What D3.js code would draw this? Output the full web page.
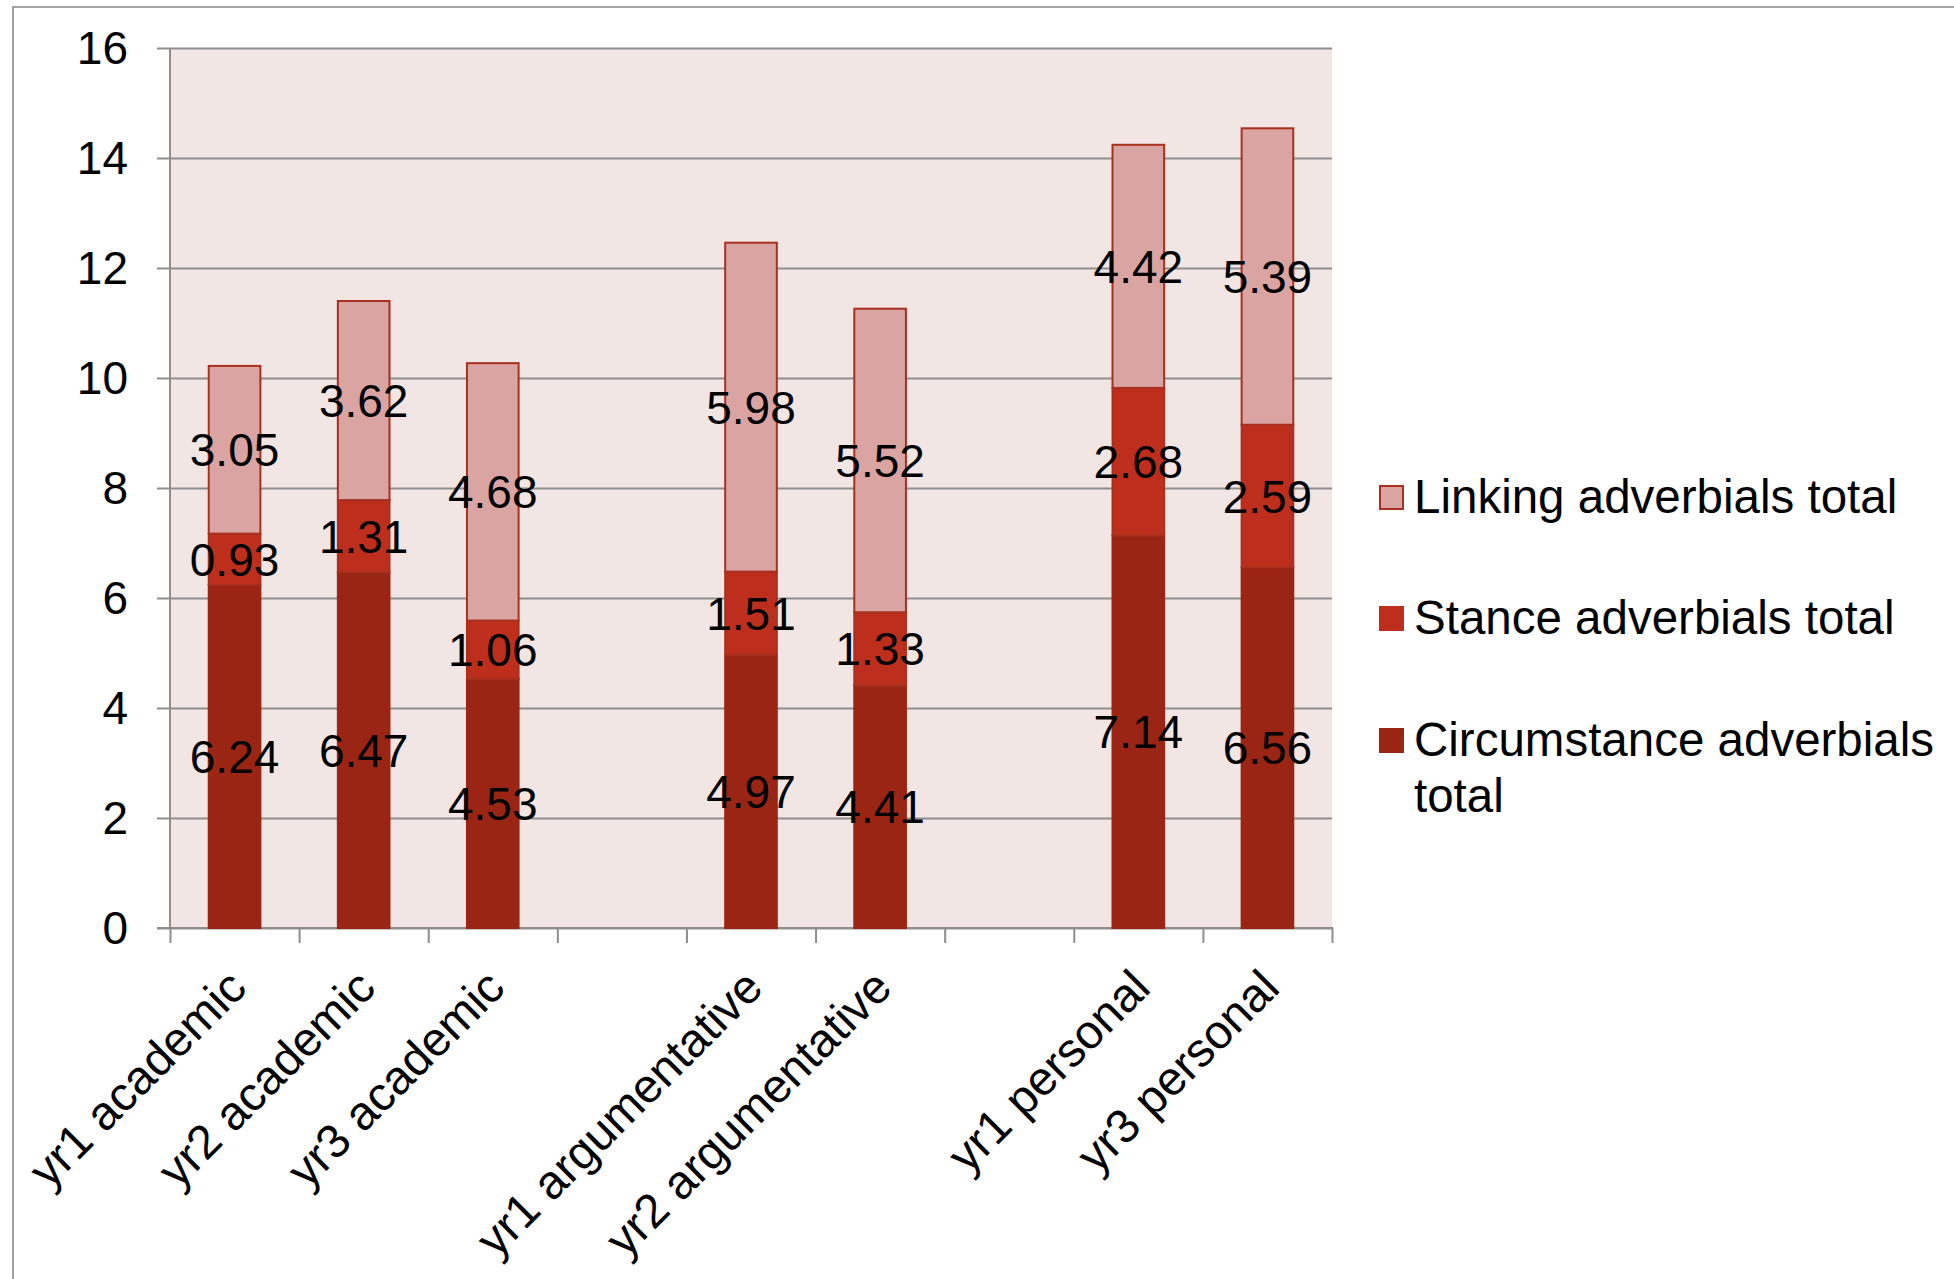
<!DOCTYPE html>
<html>
<head>
<meta charset="utf-8">
<script src="https://cdn.jsdelivr.net/npm/d3@7"></script>
<style>
  html, body { margin: 0; padding: 0; background: #ffffff; }
  svg { display: block; }
  text { font-family: "Liberation Sans", Arial, sans-serif; fill: #000; }
</style>
</head>
<body>
<svg id="chart" width="1954" height="1279"></svg>
<script>
// Categories on the x axis (blank entries are empty slots separating genres)
const categories = [
  "yr1 academic", "yr2 academic", "yr3 academic", "",
  "yr1 argumentative", "yr2 argumentative", "",
  "yr1 personal", "yr3 personal"
];

// Series values, stacked bottom to top
const circumstance = [6.24, 6.47, 4.53, null, 4.97, 4.41, null, 7.14, 6.56];
const stance       = [0.93, 1.31, 1.06, null, 1.51, 1.33, null, 2.68, 2.59];
const linking      = [3.05, 3.62, 4.68, null, 5.98, 5.52, null, 4.42, 5.39];

// Y-axis tick labels
const yTicks = [0, 2, 4, 6, 8, 10, 12, 14, 16];

const colors = {
  circumstance: "#9b2515",
  stance: "#bd2f1c",
  linking: "#d9a4a2"
};
const outline = "#a8301f";
const gridColor = "#8e8e8e";

const plot = { left: 170, right: 1332, top: 48, bottom: 928 };
const svg = d3.select("#chart");

// Outer frame
svg.append("rect")
  .attr("x", 13).attr("y", 7)
  .attr("width", 2200).attr("height", 1600)
  .attr("fill", "none")
  .attr("stroke", "#a3a3a3")
  .attr("stroke-width", 2);

// Scales
const x = d3.scaleBand()
  .domain(d3.range(categories.length))
  .range([plot.left, plot.right])
  .padding(0);
const y = d3.scaleLinear().domain([0, 16]).range([plot.bottom, plot.top]);
const barW = x.bandwidth() * 0.4;

// Plot background
svg.append("rect")
  .attr("x", plot.left).attr("y", plot.top)
  .attr("width", plot.right - plot.left)
  .attr("height", plot.bottom - plot.top)
  .attr("fill", "#f2e6e5");

// Gridlines + y ticks (ticks extend left of the axis)
const yAxis = d3.axisLeft(y)
  .tickValues(yTicks)
  .tickSize(-(plot.right - plot.left) - 13)
  .tickFormat("");
const gy = svg.append("g")
  .attr("transform", `translate(${plot.left - 13},0)`)
  .call(yAxis);
gy.select(".domain").remove();
gy.selectAll(".tick line")
  .attr("stroke", gridColor)
  .attr("stroke-width", 2)
  .attr("x1", 0).attr("x2", plot.right - plot.left + 13);

// Y axis line
svg.append("line")
  .attr("x1", plot.left).attr("x2", plot.left)
  .attr("y1", plot.top).attr("y2", plot.bottom)
  .attr("stroke", gridColor).attr("stroke-width", 2);

// Y tick labels
svg.append("g").selectAll("text")
  .data(yTicks)
  .join("text")
  .attr("x", 128)
  .attr("y", d => y(d))
  .attr("dy", "0.35em")
  .attr("text-anchor", "end")
  .attr("font-size", 46)
  .text(d => d);

// X axis with ticks at category boundaries
const xBound = d3.scaleLinear().domain([0, categories.length]).range([plot.left, plot.right]);
const xAxis = d3.axisBottom(xBound)
  .tickValues(d3.range(categories.length + 1))
  .tickSize(15)
  .tickSizeOuter(0)
  .tickFormat("");
const gx = svg.append("g")
  .attr("transform", `translate(0,${plot.bottom})`)
  .call(xAxis);
gx.select(".domain").remove();
gx.selectAll(".tick line").attr("stroke", gridColor).attr("stroke-width", 2);
svg.append("line")
  .attr("x1", plot.left - 13).attr("x2", plot.right + 1)
  .attr("y1", plot.bottom).attr("y2", plot.bottom)
  .attr("stroke", gridColor).attr("stroke-width", 2);

// Stacked bars
const rows = categories.map((c, i) => ({
  i, name: c,
  circumstance: circumstance[i] || 0,
  stance: stance[i] || 0,
  linking: linking[i] || 0
}));
const keys = ["circumstance", "stance", "linking"];
const stacked = d3.stack().keys(keys)(rows);

const barsG = svg.append("g");
stacked.forEach(layer => {
  const key = layer.key;
  barsG.append("g").selectAll("rect")
    .data(layer.filter(d => d.data.name !== ""))
    .join("rect")
    .attr("x", d => x(d.data.i) + (x.bandwidth() - barW) / 2)
    .attr("y", d => y(d[1]))
    .attr("width", barW)
    .attr("height", d => y(d[0]) - y(d[1]))
    .attr("fill", colors[key])
    .attr("stroke", key === "circumstance" ? colors.circumstance : outline)
    .attr("stroke-width", 2);
});

// Data labels, centred in each segment
const labelsG = svg.append("g");
stacked.forEach(layer => {
  labelsG.append("g").selectAll("text")
    .data(layer.filter(d => d.data.name !== ""))
    .join("text")
    .attr("x", d => x(d.data.i) + x.bandwidth() / 2)
    .attr("y", d => y((d[0] + d[1]) / 2))
    .attr("dy", "0.36em")
    .attr("text-anchor", "middle")
    .attr("font-size", 46)
    .text(d => d3.format(".2f")(d.data[layer.key]));
});

// Rotated category labels
svg.append("g").selectAll("text")
  .data(rows.filter(d => d.name !== ""))
  .join("text")
  .attr("transform", d => `translate(${x(d.i) + x.bandwidth() / 2 - 10},966) rotate(-45)`)
  .attr("text-anchor", "end")
  .attr("dy", "0.72em")
  .attr("font-size", 47.5)
  .text(d => d.name);

// Legend
const legendItems = [
  { key: "linking", lines: ["Linking adverbials total"], y: 513 },
  { key: "stance", lines: ["Stance adverbials total"], y: 634 },
  { key: "circumstance", lines: ["Circumstance adverbials", "total"], y: 756 }
];
const lg = svg.append("g");
legendItems.forEach(item => {
  lg.append("rect")
    .attr("x", 1380).attr("y", item.y - 27)
    .attr("width", 23).attr("height", 23)
    .attr("fill", colors[item.key])
    .attr("stroke", item.key === "linking" ? outline : colors[item.key])
    .attr("stroke-width", 2);
  const t = lg.append("text")
    .attr("x", 1414).attr("y", item.y)
    .attr("font-size", 47.5);
  item.lines.forEach((ln, j) => {
    t.append("tspan")
      .attr("x", 1414)
      .attr("dy", j === 0 ? 0 : 56)
      .text(ln);
  });
});
</script>
</body>
</html>
